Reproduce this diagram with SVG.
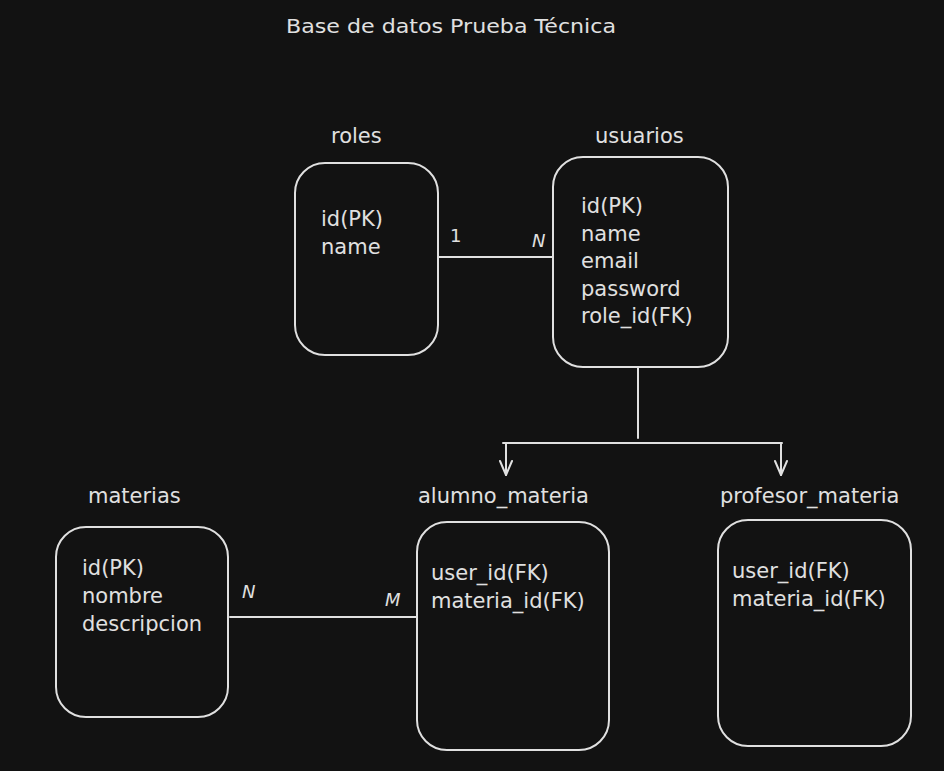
<svg xmlns="http://www.w3.org/2000/svg" width="944" height="771" viewBox="0 0 944 771">
<defs>
<style>
.bg{fill:#121212}
.box{fill:#121212;stroke:#e0e0e0;stroke-width:2}
.ln{fill:none;stroke:#e0e0e0;stroke-width:2;stroke-linecap:round}
.t{font-family:"DejaVu Sans","Liberation Sans",sans-serif;font-size:21px;fill:#e0e0e0}
.tt{font-family:"DejaVu Sans","Liberation Sans",sans-serif;font-size:20px;fill:#e0e0e0}
.card{font-family:"DejaVu Sans","Liberation Sans",sans-serif;font-size:18px;fill:#e0e0e0}
.it{font-style:italic}
</style>
<marker id="arr" viewBox="0 0 20 20" refX="18" refY="10" markerWidth="20" markerHeight="20" markerUnits="userSpaceOnUse" orient="auto">
<path d="M4 4 L18 10 L4 16" fill="none" stroke="#e0e0e0" stroke-width="2" stroke-linecap="round" stroke-linejoin="round"/>
</marker>
</defs>
<rect class="bg" x="0" y="0" width="944" height="771"/>
<text class="tt" x="286" y="33" textLength="330" lengthAdjust="spacingAndGlyphs">Base de datos Prueba Técnica</text>

<g id="connectors">
<line class="ln" x1="435" y1="257" x2="553" y2="257"/>
<line class="ln" x1="638" y1="368" x2="638" y2="438"/>
<polyline class="ln" points="503,443 782,443"/>
<line class="ln" x1="506" y1="443" x2="506" y2="475" marker-end="url(#arr)"/>
<line class="ln" x1="781" y1="443" x2="781" y2="475" marker-end="url(#arr)"/>
<line class="ln" x1="230" y1="617" x2="417" y2="617"/>
<text class="card" x="450" y="242">1</text>
<text class="card it" x="532" y="247">N</text>
<text class="card it" x="242" y="598">N</text>
<text class="card it" x="385" y="606">M</text>
</g>

<g id="roles">
<text class="t" x="331" y="143">roles</text>
<rect class="box" x="295" y="163" width="143" height="192" rx="30"/>
<text class="t" x="321" y="226">id(PK)</text>
<text class="t" x="321" y="254">name</text>
</g>

<g id="usuarios">
<text class="t" x="595" y="143">usuarios</text>
<rect class="box" x="553" y="157" width="175" height="210" rx="30"/>
<text class="t" x="581" y="213">id(PK)</text>
<text class="t" x="581" y="241">name</text>
<text class="t" x="581" y="268">email</text>
<text class="t" x="581" y="296">password</text>
<text class="t" x="581" y="323">role_id(FK)</text>
</g>

<g id="materias">
<text class="t" x="88" y="503">materias</text>
<rect class="box" x="56" y="527" width="172" height="190" rx="30"/>
<text class="t" x="82" y="575">id(PK)</text>
<text class="t" x="82" y="603">nombre</text>
<text class="t" x="82" y="631">descripcion</text>
</g>

<g id="alumno_materia">
<text class="t" x="418" y="503">alumno_materia</text>
<rect class="box" x="417" y="522" width="192" height="228" rx="30"/>
<text class="t" x="431" y="580">user_id(FK)</text>
<text class="t" x="431" y="608">materia_id(FK)</text>
</g>

<g id="profesor_materia">
<text class="t" x="720" y="503">profesor_materia</text>
<rect class="box" x="718" y="520" width="193" height="226" rx="30"/>
<text class="t" x="732" y="578">user_id(FK)</text>
<text class="t" x="732" y="606">materia_id(FK)</text>
</g>
</svg>
